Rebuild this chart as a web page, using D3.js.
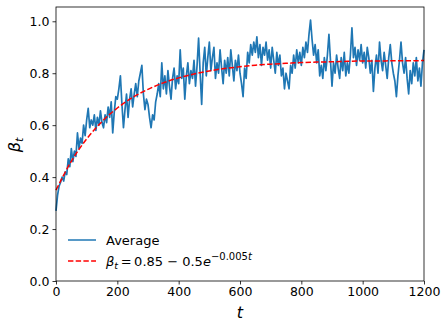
<!DOCTYPE html>
<meta charset="utf-8">
<style>
  body { margin: 0; background: #fff; }
  text { font-family: "DejaVu Sans", sans-serif; }
</style>
<body>
<script src="https://d3js.org/d3.v7.min.js"></script>
<script>
// average beta, every 5 steps of t
const tStep = 5;
const avgValues = [
  0.27, 0.33, 0.365, 0.38, 0.40, 0.385, 0.42, 0.41, 0.47, 0.44, 0.51, 0.46, 0.50, 0.48, 0.57, 0.51, 0.55, 0.53, 0.60, 0.56,
  0.62, 0.665, 0.59, 0.62, 0.60, 0.64, 0.58, 0.63, 0.60, 0.655, 0.61, 0.59, 0.64, 0.61, 0.67, 0.63, 0.69, 0.57, 0.65, 0.71,
  0.70, 0.74, 0.79, 0.68, 0.59, 0.66, 0.72, 0.63, 0.70, 0.74, 0.67, 0.72, 0.76, 0.71, 0.77, 0.80, 0.83, 0.72, 0.66, 0.70,
  0.68, 0.63, 0.59, 0.64, 0.62, 0.69, 0.72, 0.76, 0.71, 0.84, 0.74, 0.79, 0.72, 0.81, 0.75, 0.70, 0.78, 0.82, 0.74, 0.79,
  0.76, 0.89, 0.78, 0.82, 0.70, 0.79, 0.84, 0.76, 0.81, 0.78, 0.85, 0.75, 0.83, 0.935, 0.80, 0.68, 0.84, 0.90, 0.79, 0.86,
  0.92, 0.81, 0.86, 0.90, 0.78, 0.84, 0.80, 0.89, 0.82, 0.76, 0.85, 0.80, 0.86, 0.79, 0.89, 0.83, 0.77, 0.85, 0.81, 0.87,
  0.80, 0.76, 0.71, 0.82, 0.78, 0.88, 0.84, 0.91, 0.87, 0.92, 0.88, 0.94, 0.86, 0.91, 0.83, 0.90, 0.87, 0.92, 0.85, 0.89,
  0.82, 0.90, 0.85, 0.80, 0.88, 0.83, 0.87, 0.79, 0.82, 0.74, 0.80, 0.77, 0.74, 0.83, 0.80, 0.87, 0.82, 0.89, 0.84, 0.88,
  0.83, 0.90, 0.86, 0.92, 0.88, 0.95, 1.005, 0.93, 0.87, 0.91, 0.84, 0.89, 0.79, 0.83, 0.78, 0.86, 0.81, 0.87, 0.95, 0.85,
  0.75, 0.84, 0.80, 0.87, 0.82, 0.78, 0.86, 0.81, 0.88, 0.79, 0.84, 0.80, 0.87, 0.975, 0.86, 0.90, 0.83, 0.89, 0.85, 0.91,
  0.84, 0.88, 0.82, 0.90, 0.86, 0.80, 0.85, 0.73, 0.82, 0.87, 0.80, 0.92, 0.85, 0.81, 0.88, 0.83, 0.78, 0.86, 0.91, 0.84,
  0.80, 0.77, 0.71, 0.79, 0.85, 0.92, 0.84, 0.80, 0.86, 0.78, 0.72, 0.81, 0.76, 0.84, 0.79, 0.86, 0.77, 0.82, 0.75, 0.84,
  0.89
];

// fitted curve, sampled every 50
const fitT = [0, 50, 100, 150, 200, 250, 300, 350, 400, 450, 500, 550, 600, 650, 700, 750, 800, 850, 900, 950, 1000, 1050, 1100, 1150, 1200];
const fitValues = [0.350, 0.461, 0.547, 0.614, 0.666, 0.707, 0.738, 0.763, 0.782, 0.797, 0.809, 0.818, 0.825, 0.831, 0.835, 0.838, 0.841, 0.843, 0.844, 0.846, 0.847, 0.847, 0.848, 0.848, 0.849];

const xTicks = [0, 200, 400, 600, 800, 1000, 1200];
const yTicks = [0.0, 0.2, 0.4, 0.6, 0.8, 1.0];

const width = 448, height = 328;
const margin = {left: 56, right: 24, top: 7, bottom: 47};

const svg = d3.select("body").append("svg")
    .attr("width", width)
    .attr("height", height);

const x = d3.scaleLinear().domain([0, 1200]).range([margin.left, width - margin.right]);
const y = d3.scaleLinear().domain([0, 1.055]).range([height - margin.bottom, margin.top]);

const avg = avgValues.map((v, i) => ({t: i * tStep, v: v}));
const fit = fitT.map((t, i) => ({t: t, v: fitValues[i]}));

const plot = svg.append("g");

plot.append("path")
    .datum(avg)
    .attr("fill", "none")
    .attr("stroke", "#1f77b4")
    .attr("stroke-width", 1.7)
    .attr("stroke-linejoin", "round")
    .attr("d", d3.line().x(d => x(d.t)).y(d => y(d.v)));

plot.append("path")
    .datum(fit)
    .attr("fill", "none")
    .attr("stroke", "#ff0000")
    .attr("stroke-width", 1.5)
    .attr("stroke-dasharray", "5.4,2.3")
    .attr("d", d3.line().curve(d3.curveMonotoneX).x(d => x(d.t)).y(d => y(d.v)));

// axes
const xAxis = svg.append("g")
    .attr("transform", "translate(0," + (height - margin.bottom) + ")")
    .call(d3.axisBottom(x).tickValues(xTicks).tickSize(3.5).tickPadding(3).tickFormat(d3.format("d")));
const yAxis = svg.append("g")
    .attr("transform", "translate(" + margin.left + ",0)")
    .call(d3.axisLeft(y).tickValues(yTicks).tickSize(3.5).tickPadding(3).tickFormat(d3.format(".1f")));

[xAxis, yAxis].forEach(a => {
  a.select(".domain").remove();
  a.selectAll("line").attr("stroke", "#000").attr("stroke-width", 0.8);
  a.selectAll("text").attr("fill", "#000").style("font-size", "12.5px").style("font-family", "DejaVu Sans");
});

// frame
svg.append("rect")
    .attr("x", margin.left)
    .attr("y", margin.top)
    .attr("width", width - margin.left - margin.right)
    .attr("height", height - margin.top - margin.bottom)
    .attr("fill", "none")
    .attr("stroke", "#000")
    .attr("stroke-width", 0.8);

// axis labels
svg.append("text")
    .attr("x", (margin.left + width - margin.right) / 2)
    .attr("y", 318)
    .attr("text-anchor", "middle")
    .style("font-size", "16px")
    .style("font-style", "italic")
    .text("t");

const yl = svg.append("text")
    .attr("transform", "translate(20,145) rotate(-90)")
    .attr("text-anchor", "middle")
    .style("font-size", "16px");
yl.append("tspan").style("font-style", "italic").text("β");
yl.append("tspan").style("font-style", "italic").style("font-size", "11px").attr("dy", 3).text("t");

// legend
const leg = svg.append("g");
leg.append("line")
    .attr("x1", 68).attr("x2", 96).attr("y1", 240).attr("y2", 240)
    .attr("stroke", "#1f77b4").attr("stroke-width", 1.5);
leg.append("text")
    .attr("x", 106).attr("y", 244.5)
    .style("font-size", "13px")
    .text("Average");

leg.append("line")
    .attr("x1", 68).attr("x2", 96).attr("y1", 261).attr("y2", 261)
    .attr("stroke", "#ff0000").attr("stroke-width", 1.5)
    .attr("stroke-dasharray", "5.4,2.3");
const lt = leg.append("text")
    .attr("x", 106).attr("y", 265.5)
    .style("font-size", "13px");
lt.append("tspan").style("font-style", "italic").text("β");
lt.append("tspan").style("font-style", "italic").style("font-size", "9.5px").attr("dy", 3).text("t");
lt.append("tspan").attr("dy", -3).text("\u2009=\u20090.85 \u2212 0.5");
lt.append("tspan").style("font-style", "italic").text("e");
lt.append("tspan").style("font-size", "10px").attr("dy", -5.5).text("\u22120.005");
lt.append("tspan").style("font-size", "10px").style("font-style", "italic").text("t");
</script>
</body>
